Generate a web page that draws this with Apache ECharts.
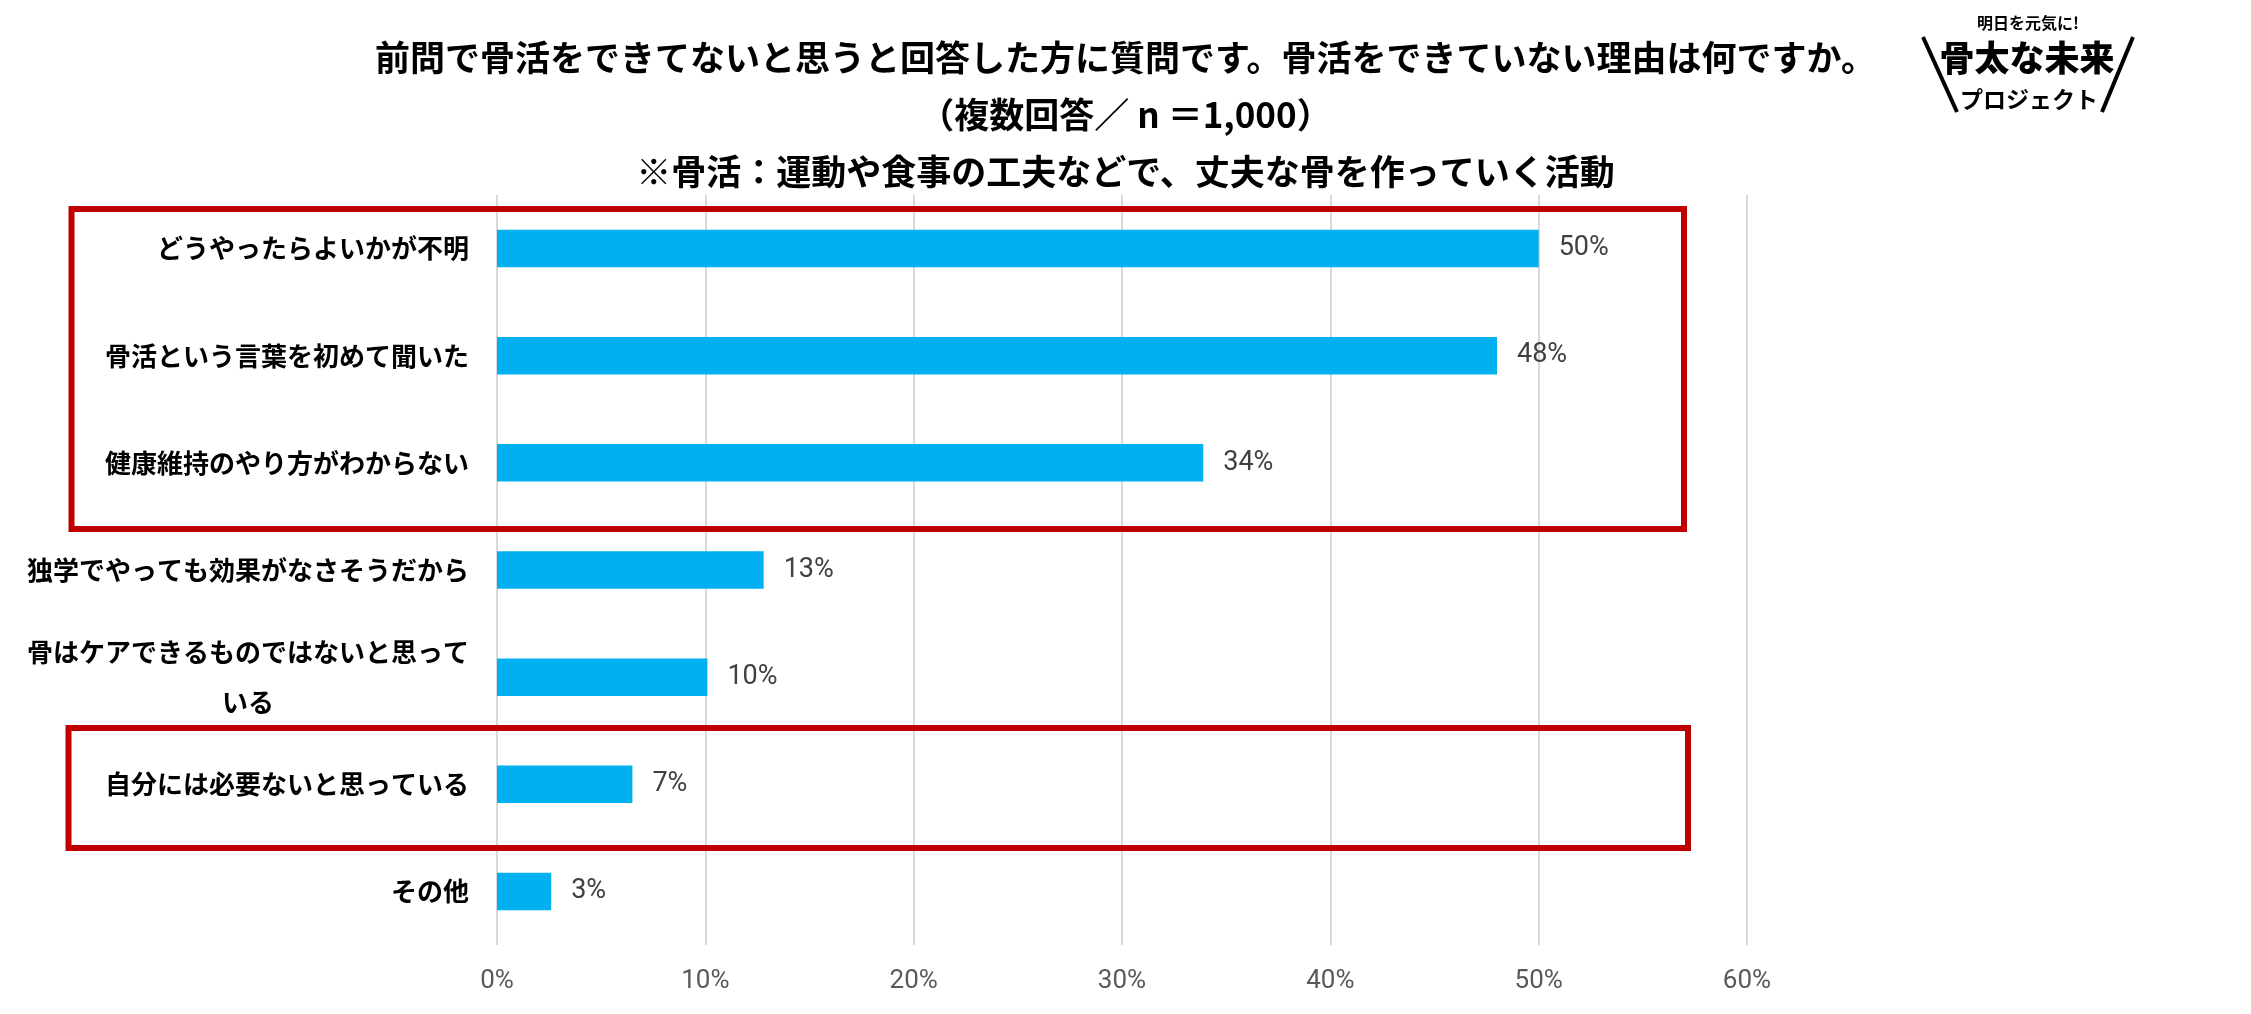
<!DOCTYPE html>
<html>
<head>
<meta charset="utf-8">
<script src="https://cdn.jsdelivr.net/npm/echarts@6/dist/echarts.min.js"></script>
<style>
html,body{margin:0;padding:0;background:#fff;}
#chart{width:2251px;height:1014px;}
</style>
</head>
<body>
<div id="chart"></div>
<script>
// ---- data ----
var titleLines = [
  '前問で骨活をできてないと思うと回答した方に質問です。骨活をできていない理由は何ですか。',
  '（複数回答／ n ＝1,000）',
  '※骨活：運動や食事の工夫などで、丈夫な骨を作っていく活動'
];
var categories = [
  'どうやったらよいかが不明',
  '骨活という言葉を初めて聞いた',
  '健康維持のやり方がわからない',
  '独学でやっても効果がなさそうだから',
  '骨はケアできるものではないと思って\nいる',
  '自分には必要ないと思っている',
  'その他'
];
var values = [50.0, 48.0, 33.9, 12.8, 10.1, 6.5, 2.6];
var xTicks = [0, 10, 20, 30, 40, 50, 60];
var logoTop = '明日を元気に!';
var logoMain = '骨太な未来';
var logoSub = 'プロジェクト';

var CJK = '"Noto Sans CJK JP", "Noto Sans", sans-serif';
var NUM = 'Roboto, "Noto Sans", sans-serif';

var chart = echarts.init(document.getElementById('chart'));
var red = '#C00000';

var option = {
  backgroundColor: '#ffffff',
  animation: false,
  title: {
    text: titleLines.join('\n'),
    left: 'center',
    top: 24,
    textStyle: {
      fontFamily: CJK, fontSize: 35, fontWeight: 'bold', color: '#000000', lineHeight: 57
    }
  },
  grid: { left: 497, right: 504, top: 195, bottom: 69, containLabel: false },
  xAxis: {
    type: 'value',
    min: xTicks[0],
    max: xTicks[xTicks.length - 1],
    interval: xTicks[1] - xTicks[0],
    axisLine: { show: false },
    axisTick: { show: false },
    splitLine: { show: true, lineStyle: { color: '#d9d9d9', width: 2 } },
    axisLabel: {
      formatter: '{value}%',
      fontFamily: NUM, fontSize: 26, color: '#595959', margin: 23
    }
  },
  yAxis: {
    type: 'category',
    inverse: true,
    data: categories,
    axisLine: { show: false },
    axisTick: { show: false },
    axisLabel: {
      fontFamily: CJK, fontSize: 26, fontWeight: 'bold', color: '#000000',
      margin: 28, lineHeight: 50,
      formatter: function (v) {
        var parts = v.split('\n');
        if (parts.length > 1) {
          return parts[0] + '\n{c|' + parts.slice(1).join('') + '}';
        }
        return v;
      },
      rich: {
        c: { align: 'center', fontFamily: CJK, fontSize: 26, fontWeight: 'bold', color: '#000000', lineHeight: 50 }
      }
    }
  },
  series: [{
    type: 'bar',
    data: values,
    barWidth: '35%',
    itemStyle: { color: '#00B0F0' },
    label: {
      show: true,
      position: 'right',
      distance: 20,
      fontFamily: NUM, fontSize: 27, color: '#404040',
      formatter: function (p) { return Math.round(p.value) + '%'; }
    }
  }],
  graphic: [
    { type: 'rect', shape: { x: 71.5, y: 209, width: 1612.5, height: 320 },
      style: { fill: 'none', stroke: red, lineWidth: 6 }, z: 100 },
    { type: 'rect', shape: { x: 68.5, y: 728, width: 1619.5, height: 120 },
      style: { fill: 'none', stroke: red, lineWidth: 6 }, z: 100 },
    { type: 'text', x: 2028, y: 23,
      style: { text: logoTop, fontFamily: CJK, fontSize: 16, fontWeight: 'bold', fill: '#000', textAlign: 'center', textVerticalAlign: 'middle' } },
    { type: 'text', x: 2027, y: 58,
      style: { text: logoMain, fontFamily: CJK, fontSize: 35, fontWeight: 900, fill: '#000', textAlign: 'center', textVerticalAlign: 'middle' } },
    { type: 'text', x: 2029, y: 99,
      style: { text: logoSub, fontFamily: CJK, fontSize: 23, fontWeight: 'bold', fill: '#000', textAlign: 'center', textVerticalAlign: 'middle' } },
    { type: 'line', shape: { x1: 1923, y1: 37, x2: 1957, y2: 112 },
      style: { stroke: '#000', lineWidth: 4 } },
    { type: 'line', shape: { x1: 2133, y1: 37, x2: 2102, y2: 112 },
      style: { stroke: '#000', lineWidth: 4 } }
  ]
};
chart.setOption(option);
</script>
</body>
</html>
